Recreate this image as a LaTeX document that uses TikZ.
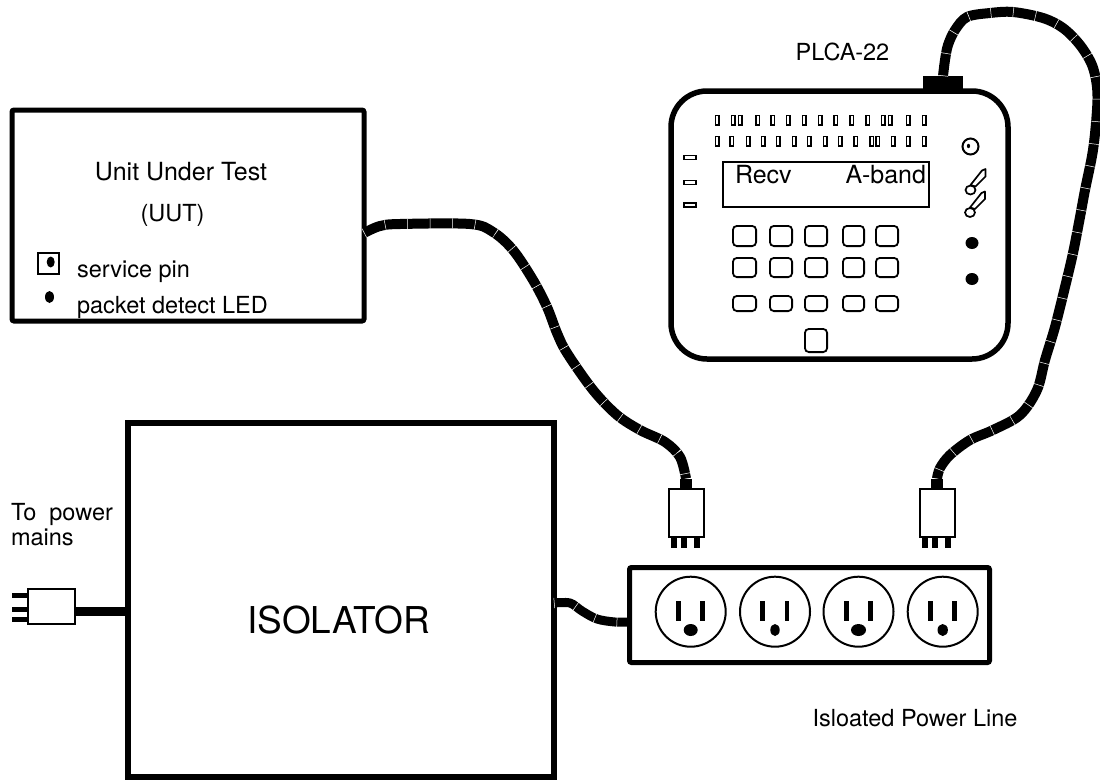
\documentclass[tikz,border=0pt]{standalone}
\usepackage{fontspec}
\setmainfont{TeX Gyre Heros}
\usetikzlibrary{calc}
\begin{document}
\begin{tikzpicture}[x=1pt,y=-1pt,
  every node/.style={inner sep=0pt, outer sep=0pt},
  heavy/.style={draw, line width=5.5pt},
  fine/.style={draw, line width=1.8pt},
  lbl/.style={font=\fontsize{23.5}{28}\selectfont},
  disptext/.style={font=\fontsize{25}{30}\selectfont},
  bigtext/.style={font=\fontsize{37}{44}\selectfont},
  cable/.style={line width=10pt, line join=round,
    postaction={draw=white, line width=10.1pt, dash pattern=on 0.5pt off 22pt}},
  btn/.style={line width=1.8pt, rounded corners=4pt},
  outlet/.style={circle, draw, line width=2pt, minimum size=70pt},
  plug/.pic={
    \node[fine, line width=2pt, minimum width=35pt, minimum height=48pt] (-body) {};
    \node[fill, minimum width=12pt, minimum height=10pt, anchor=south] (-neck) at (-body.north) {};
    \foreach \a/\b in {-15/-9,-5.5/0.5,8/14} \fill (\a,24) rectangle (\b,35.5);
  }
]
\useasboundingbox (0,0) rectangle (1100,782);

% ---------------- Unit under test ----------------
\node[heavy, line width=5pt, rounded corners=2pt, minimum width=352pt, minimum height=211pt] (uut) at (188,215.5) {};
\node[lbl, font=\fontsize{25}{30}\selectfont, anchor=base] (uuttitle) at (181,180) {Unit Under Test};
\node[lbl, anchor=base] (uutabbr) at (172.5,221) {(UUT)};
\node[draw, line width=2pt, minimum size=21pt] (pin) at (48.5,263.5) {};
\fill (50.7,262) ellipse (4 and 5.5);
\node[lbl, anchor=base west] (pinlbl) at (77,277) {service pin};
\fill (49.5,297) ellipse (4.5 and 6);
\node[lbl, anchor=base west] (ledlbl) at (77,313) {packet detect LED};

% ---------------- PLCA-22 analyser ----------------
\node[heavy, rounded corners=36pt, minimum width=337pt, minimum height=268pt] (plca) at (839.5,225) {};
\node[fill, minimum width=40pt, minimum height=16pt] (plcaport) at (943,84) {};
\node[lbl, anchor=base] (plcaname) at (842.5,60) {PLCA-22};

% LED rows
\foreach \x in {717.3,733.3,740,757.7,772.7,788.3,804,820,835.7,851.7,867.7,883.3,890,908.3,924}
  \draw[line width=1.6pt] (\x-1.7,115.3) rectangle (\x+1.7,124.7);
\foreach \x in {717.3,731.7,748.3,763.3,778.3,794.3,809,825,840,855.7,871.7,877.7,893.3,908.3,924}
  \draw[line width=1.6pt] (\x-1.7,136.3) rectangle (\x+1.7,145.7);
% side indicators
\foreach \y in {157.5,182.5,205}
  \draw[line width=1.6pt] (683.8,\y-2) rectangle (696.2,\y+2);

% display
\node[draw, line width=2pt, minimum width=206pt, minimum height=45pt] (disp) at (826,184.5) {};
\node[disptext, anchor=base west] (recv) at (735,183.3) {Recv};
\node[disptext, anchor=base east] (band) at (926,183.3) {A-band};

% keypad
\foreach \a/\b in {732/757,769/793,804/828,842/865,875/899}
  \foreach \c/\d in {225/247,257/278,295/312}
    \draw[btn] (\a+0.9,\c+0.9) rectangle (\b-0.9,\d-0.9);
\draw[btn] (804.9,328.9) rectangle (827.1,352.1);

% right-hand controls
\draw[line width=2pt] (970.5,146.5) circle (8);
\fill (968.5,146) ellipse (1.6 and 2.2);
\foreach \dx/\dy in {0/0,-0.5/22.5} {
  \draw[line width=1.7pt] (970.5+\dx,190+\dy) ellipse (5 and 4.5);
  \draw[line width=1.7pt, line join=round] (970.5+\dx,185+\dy) -- (982+\dx,170.5+\dy)
     -- (985.5+\dx,169+\dy) -- (985.5+\dx,176.5+\dy) -- (975.5+\dx,186.5+\dy) -- cycle;
}
\fill (972,243) ellipse (6.5 and 6);
\fill (972,279) ellipse (6.5 and 6);

% ---------------- Isolator ----------------
\node[heavy, minimum width=426pt, minimum height=354pt] (iso) at (341,600) {};
\node[bigtext, anchor=base] (isolbl) at (338.5,633) {ISOLATOR};

% mains plug
\node[draw, line width=2pt, minimum width=47pt, minimum height=35pt] (mains) at (51.5,606.5) {};
\foreach \y in {593,607,617} \fill (12,\y) rectangle (28,\y+5);
\coordinate (mainsout) at ($(mains.east)+(0,5)$);
\draw[line width=9pt] (mainsout) -- (mainsout -| iso.west);
\node[lbl, anchor=base west] (mainslbl1) at (11,520) {To~~power};
\node[lbl, anchor=base west] (mainslbl2) at (11,545) {mains};

% ---------------- Power strip ----------------
\node[heavy, line width=5pt, rounded corners=2pt, minimum width=360pt, minimum height=95pt] (strip) at (809.5,615) {};
\foreach \x/\n/\gx/\gy in {690.7/1/7/6,775/2/4.7/6,858.5/3/7.5/6,942.7/4/5.2/6} {
  \node[outlet] (out\n) at (\x,611.7) {};
  \fill (\x-14.7,601) rectangle (\x-9.7,621);
  \fill (\x+9.5,601) rectangle (\x+14.3,621);
  \fill (\x,630) ellipse [x radius=\gx, y radius=\gy];
}
\node[lbl, anchor=base] (striplbl) at (915,726) {Isloated Power Line};

% plugs
\pic (p1) at (686,512.5) {plug};
\pic (p2) at (937,512.5) {plug};

% ---------------- Cables ----------------
\coordinate (uutport) at ($(uut.east)+(0,17.5)$);
\coordinate (isoport) at ($(iso.east)+(0,3)$);
\coordinate (stripport) at ($(strip.west)+(0,7)$);

\draw[cable] plot[smooth, tension=0.55] coordinates {
  (uutport) (380,226) (400,224) (470,224) (493,232) (513,250) (533,280)
  (547,307) (557,333) (567,353) (593,390) (617,415) (640,430) (665,442)
  (680,457) (p1-neck.north)};

\draw[cable] plot[smooth, tension=0.55] coordinates {
  (plcaport.north) (945,60) (948,45) (955,30) (967,17) (990,13) (1013,12)
  (1043,18) (1063,28) (1080,45) (1092,65) (1097,87) (1097,110) (1093,150)
  (1085,190) (1080,217) (1073,253) (1065,287) (1055,327) (1045,360)
  (1037,390) (1020,415) (993,430) (970,440) (950,455) (940,468) (p2-neck.north)};

\draw[cable, line width=9pt] plot[smooth, tension=0.55] coordinates {
  (isoport) (570,603) (582,611) (597,619) (615,622) (stripport)};

\end{tikzpicture}
\end{document}
